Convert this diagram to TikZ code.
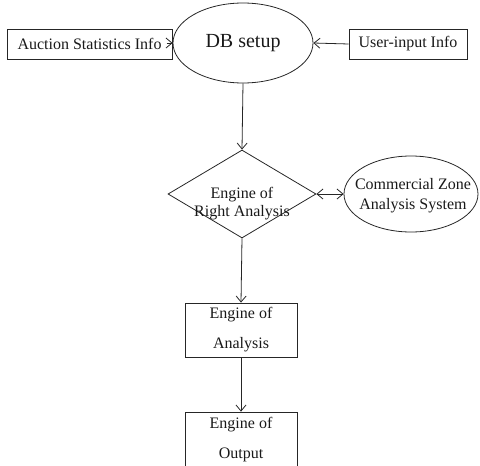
\documentclass[tikz,border=0pt]{standalone}
\usepackage{fontspec}
\setmainfont{Liberation Serif}
\usetikzlibrary{shapes.geometric,arrows.meta}
\tikzset{
  base/.style={draw=black!85, line width=0.8pt, inner sep=0pt, text=black!90},
  infobox/.style={base, rectangle, font=\fontsize{16}{19}\selectfont},
  stagebox/.style={base, rectangle, align=center, font=\fontsize{16}{30}\selectfont},
  oval/.style={base, ellipse, align=center},
  decision/.style={base, diamond},
  caption/.style={align=center, inner sep=0pt, text=black!90},
  barb/.tip={Straight Barb[length=6pt,width=10pt]},
  flow/.style={draw=black!85, line width=0.8pt, -barb},
  twoway/.style={draw=black!85, line width=0.8pt, barb-barb}
}
\begin{document}
\begin{tikzpicture}[x=1pt,y=-1pt]
  \useasboundingbox (0,0) rectangle (480,466);

  % sources feeding the database
  \node[infobox, minimum width=165pt, minimum height=30pt] (auction) at (89.5,44) {Auction Statistics Info};
  \node[oval, minimum width=140pt, minimum height=80pt, font=\fontsize{20}{24}\selectfont] (db) at (243,43) {DB setup};
  \node[infobox, minimum width=118pt, minimum height=30pt] (user) at (408,44) {User-input Info};
  % the two shapes touch, so only the arrow head shows inside the box
  \coordinate (auctiontail) at ([xshift=-6pt]db.west);

  % analysis stage
  \node[decision, minimum width=148pt, minimum height=88pt] (rights) at (242,194) {};
  \node[caption, font=\fontsize{16}{18}\selectfont] (rightstext) at (242,204) {Engine of\\Right Analysis};
  \node[oval, minimum width=134pt, minimum height=76pt] (zone) at (411,194) {};
  \node[caption, font=\fontsize{16}{20}\selectfont] (zonetext) at (413,196) {Commercial Zone\\Analysis System};

  % processing engines
  \node[stagebox, minimum width=112pt, minimum height=54pt] (analysis) at (241,330) {Engine of\\Analysis};
  \node[stagebox, minimum width=112pt, minimum height=56pt] (output) at (241,440) {Engine of\\Output};

  % connectors
  \draw[flow] (auctiontail) -- (db.west);
  \draw[flow] (user.west) -- (db.east);
  \draw[flow] (db.south) -- (rights.north);
  \draw[twoway] (rights.east) -- (zone.west);
  \draw[flow] (rights.south) -- (analysis.north);
  \draw[flow] (analysis.south) -- (output.north);
\end{tikzpicture}
\end{document}
